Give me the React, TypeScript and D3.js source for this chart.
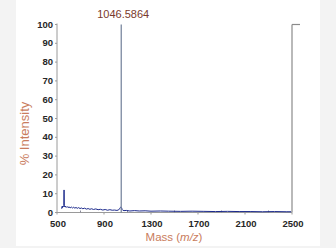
import React from "react";
import * as d3 from "d3";

const xTicks = [500, 900, 1300, 1700, 2100, 2500];
const xMinorTicks = [700, 1100, 1500, 1900, 2300];
const yTicks = [0, 10, 20, 30, 40, 50, 60, 70, 80, 90, 100];

// noise spectrum (m/z, % intensity)
const specMz = [540, 543, 546, 549, 552, 555, 558, 560, 562, 565, 570, 578, 586, 594, 602, 612, 622, 632, 642, 652, 662, 672, 684, 696, 708, 720, 735, 750, 765, 780, 795, 810, 830, 850, 870, 890, 910, 930, 950, 970, 990, 1010, 1025, 1032, 1038, 1042, 1050, 1054, 1060, 1070, 1090, 1120, 1160, 1200, 1250, 1300, 1380, 1450, 1550, 1650, 1750, 1850, 1950, 2050, 2150, 2250, 2350, 2450, 2495];
const specInt = [2.0, 3.2, 2.6, 3.4, 2.9, 3.3, 3.6, 12, 3.8, 3.0, 3.4, 2.7, 3.2, 2.6, 3.0, 2.5, 2.9, 2.4, 2.8, 2.3, 2.7, 2.2, 2.6, 2.1, 2.4, 2.0, 2.3, 1.8, 2.1, 1.7, 2.0, 1.6, 1.9, 1.5, 1.7, 1.3, 1.6, 1.2, 1.5, 1.2, 1.3, 1.1, 1.4, 2.0, 2.6, 2.8, 2.5, 1.6, 1.2, 1.0, 1.1, 0.8, 1.0, 0.8, 0.9, 0.7, 0.8, 0.7, 0.6, 0.7, 0.6, 0.5, 0.6, 0.5, 0.5, 0.4, 0.5, 0.4, 0.4];

const peakMz = 1046.5864;
const peakInt = 100;
const peakLabel = "1046.5864";
const edgeMz = 2500;
const edgeInt = 100;

export default function App() {
  const W = 336, H = 248;
  const x = d3.scaleLinear().domain([500, 2500]).range([57, 292]);
  const y = d3.scaleLinear().domain([0, 100]).range([212.5, 24.5]);
  const line = d3.line<number>().x((_, i) => x(specMz[i])).y((d) => y(d));
  const font = "Arial, 'Liberation Sans', Helvetica, sans-serif";
  return (
    <svg width={W} height={H} style={{ position: "fixed", left: 0, top: 0 }} fontFamily={font}>
      <rect x={0} y={0} width={W} height={H} fill="#f3f3f3" />
      <rect x={16} y={0} width={304} height={246} fill="#ffffff" />
      {/* axes */}
      <line x1={x(500)} x2={x(500)} y1={y(100) - 1} y2={y(0)} stroke="#9a9a9a" strokeWidth={1} />
      <line x1={x(500)} x2={x(2500)} y1={y(0)} y2={y(0)} stroke="#9a9a9a" strokeWidth={1} />
      {yTicks.map((t) => (
        <g key={t}>
          <line x1={x(500) - 2} x2={x(500)} y1={y(t)} y2={y(t)} stroke="#9a9a9a" />
          <text x={x(500) - 4} y={y(t) + 3} textAnchor="end" fontSize={9.5} fontWeight="bold" fill="#262626">{t}</text>
        </g>
      ))}
      {xTicks.map((t) => (
        <g key={t}>
          <line x1={x(t)} x2={x(t)} y1={y(0)} y2={y(0) + 2} stroke="#9a9a9a" />
          <text x={x(t) + 1} y={y(0) + 14} textAnchor="middle" fontSize={9.5} fontWeight="bold" fill="#262626">{t}</text>
        </g>
      ))}
      {xMinorTicks.map((t) => (
        <line key={t} x1={x(t)} x2={x(t)} y1={y(0) - 2} y2={y(0)} stroke="#8a8a9a" />
      ))}
      {/* spectrum noise */}
      <path d={line(specInt) || ""} fill="none" stroke="#1c2a8c" strokeWidth={1} />
      {/* main peak */}
      <line x1={x(peakMz)} x2={x(peakMz)} y1={y(0)} y2={y(peakInt)} stroke="#6f7e98" strokeWidth={1.2} />
      <text x={x(peakMz) + 2} y={18} textAnchor="middle" fontSize={11} fill="#7a3a2c">{peakLabel}</text>
      {/* edge artifact */}
      <line x1={x(edgeMz)} x2={x(edgeMz)} y1={y(0)} y2={y(edgeInt)} stroke="#a8a8a8" strokeWidth={1.6} />
      <line x1={x(edgeMz)} x2={x(edgeMz) + 8} y1={y(edgeInt)} y2={y(edgeInt)} stroke="#8a8a8a" strokeWidth={1.2} />
      {/* axis titles */}
      <text transform={`translate(29,${y(42)}) rotate(-90)`} textAnchor="middle" fontSize={13} fill="#c97c5d">% Intensity</text>
      <text x={174} y={241} textAnchor="middle" fontSize={11.5} fill="#c97c5d">
        Mass (<tspan fontStyle="italic">m/z</tspan>)
      </text>
    </svg>
  );
}
